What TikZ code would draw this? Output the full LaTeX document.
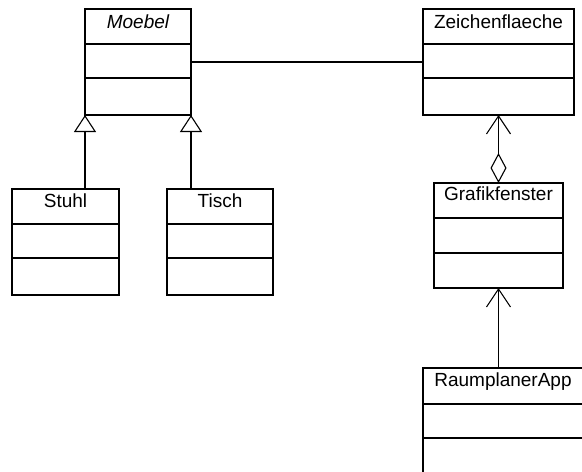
\documentclass[tikz,border=0pt]{standalone}
\usepackage{fontspec}
\setmainfont{Liberation Sans}
\usetikzlibrary{arrows.meta}
\begin{document}
\begin{tikzpicture}[x=1pt,y=-1pt,
  cls/.style={draw, line width=1.1pt, anchor=north west, inner sep=0pt, outer sep=0pt},
  ttl/.style={anchor=base, font=\fontsize{19}{22}\selectfont, inner sep=0pt},
  ln/.style={line width=1.1pt},
  inh/.style={ln, -{Triangle[open, length=17pt, width=22pt]}},
  agg/.style={ln, {Diamond[open, length=30pt, width=16pt]}-{Straight Barb[length=18pt, width=24pt]}},
  nav/.style={ln, -{Straight Barb[length=18pt, width=24pt]}}]
\useasboundingbox (0,0) rectangle (582,472);
\clip (0,0) rectangle (582,472);
% classes
\node[cls, minimum width=106pt, minimum height=106pt] (moebel) at (85,9) {};
\node[cls, minimum width=151pt, minimum height=106pt] (zf) at (423,9) {};
\node[cls, minimum width=107pt, minimum height=106pt] (stuhl) at (12,189) {};
\node[cls, minimum width=106pt, minimum height=106pt] (tisch) at (167,189) {};
\node[cls, minimum width=129pt, minimum height=105pt] (graf) at (434,183) {};
\node[cls, minimum width=160pt, minimum height=112pt] (raum) at (423,368) {};
% dividers
\foreach \n/\a/\b in {moebel/35/69, zf/35/69, stuhl/35/69, tisch/35/69, graf/35/70, raum/36/70}{
  \draw[ln] ([yshift=-\a pt]\n.north west) -- ([yshift=-\a pt]\n.north east);
  \draw[ln] ([yshift=-\b pt]\n.north west) -- ([yshift=-\b pt]\n.north east);
}
% titles
\node[ttl, font=\fontsize{19}{22}\selectfont\itshape] (moebelT) at (138,28) {Moebel};
\node[ttl] (zfT) at (498.5,28) {Zeichenflaeche};
\node[ttl] (stuhlT) at (65.5,207) {Stuhl};
\node[ttl] (tischT) at (220,207) {Tisch};
\node[ttl] (grafT) at (498.5,200) {Grafikfenster};
\node[ttl] (raumT) at (503,386.5) {RaumplanerApp};
% connectors
\draw[ln] (moebel.east) -- (zf.west);
\draw[inh] (moebel.south west |- stuhl.north) -- (moebel.south west);
\draw[inh] (moebel.south east |- tisch.north) -- (moebel.south east);
\draw[agg] (graf.north) -- (zf.south);
\draw[nav] (graf.south |- raum.north) -- (graf.south);
\end{tikzpicture}
\end{document}
